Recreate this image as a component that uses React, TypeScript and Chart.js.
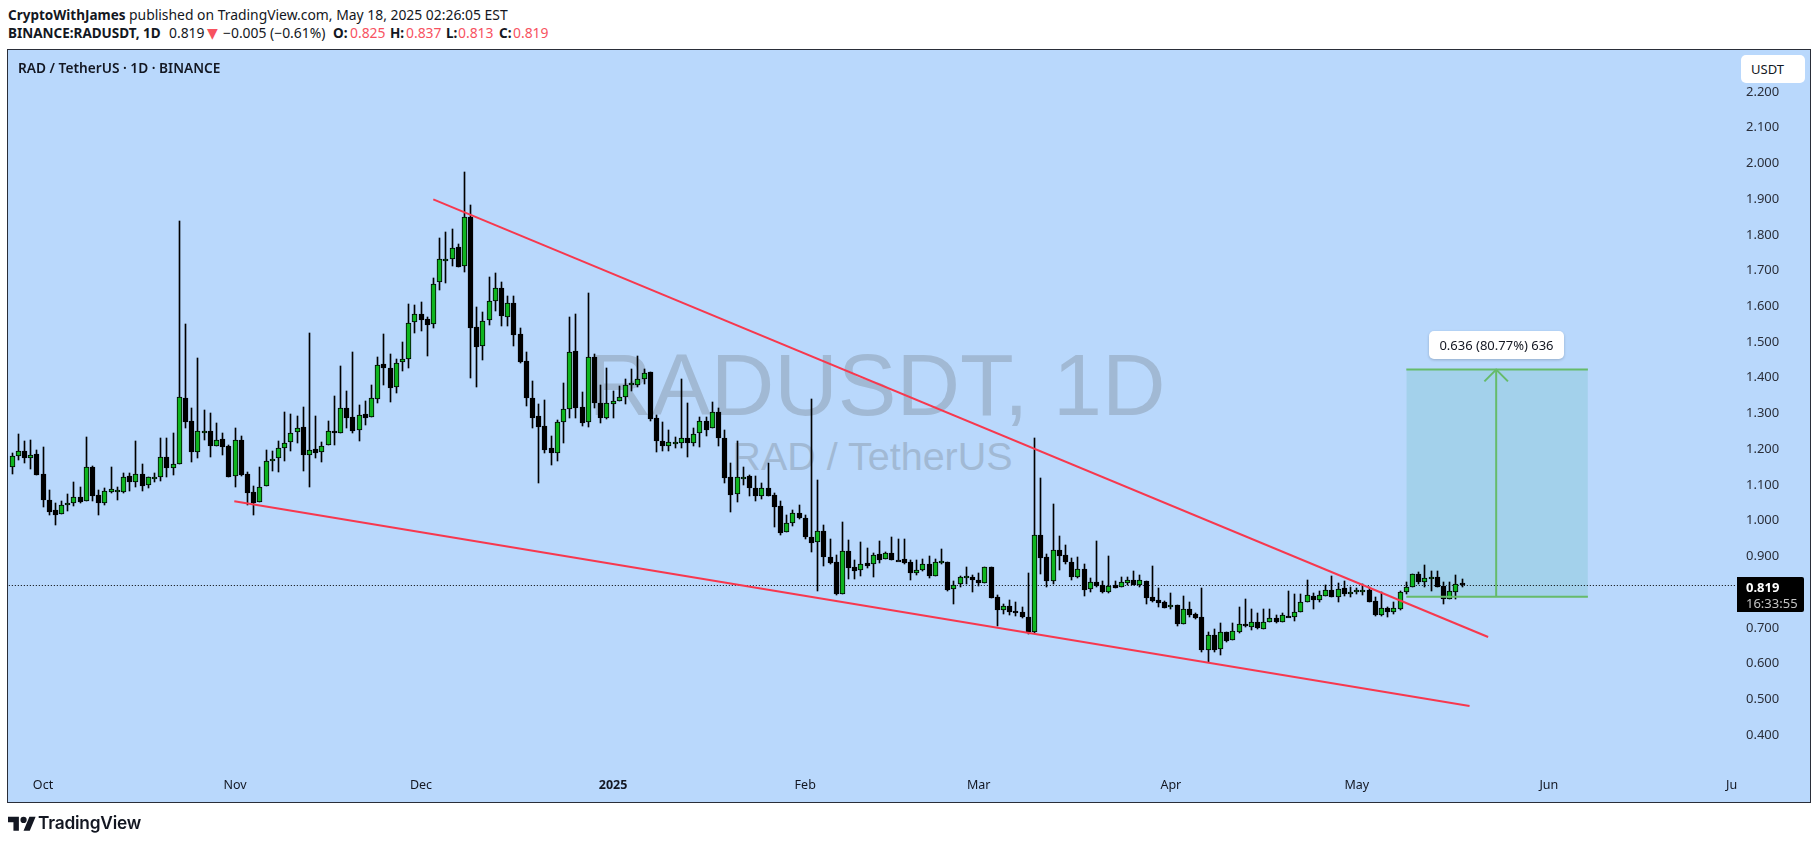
import React, { useEffect, useRef } from "react";
import { Chart, registerables } from "chart.js";

Chart.register(...registerables);

const firstCandleDay = -5; // days relative to 1 Oct 2024

const opens = [
  1.151,1.182,1.194,1.175,1.186,1.130,1.057,1.029,1.018,1.048,
  1.048,1.065,1.054,1.149,1.071,1.048,1.081,1.084,1.081,1.124,
  1.107,1.130,1.099,1.120,1.121,1.177,1.146,1.158,1.342,1.278,
  1.191,1.250,1.250,1.210,1.228,1.208,1.124,1.225,1.130,1.079,
  1.051,1.096,1.171,1.175,1.202,1.219,1.247,1.261,1.185,1.200,
  1.193,1.211,1.250,1.244,1.314,1.289,1.253,1.298,1.289,1.340,
  1.438,1.426,1.373,1.443,1.452,1.555,1.578,1.564,1.550,1.667,
  1.731,1.732,1.765,1.712,1.849,1.541,1.488,1.561,1.614,1.650,
  1.571,1.608,1.522,1.446,1.342,1.292,1.264,1.203,1.189,1.275,
  1.312,1.474,1.317,1.275,1.457,1.329,1.288,1.327,1.336,1.345,
  1.383,1.381,1.396,1.415,1.287,1.222,1.210,1.220,1.218,1.231,
  1.218,1.244,1.278,1.258,1.303,1.231,1.121,1.074,1.122,1.124,
  1.091,1.068,1.091,1.071,1.040,0.967,0.993,1.021,1.007,0.953,
  0.939,0.970,0.897,0.883,0.796,0.914,0.869,0.861,0.881,0.878,
  0.906,0.892,0.909,0.891,0.892,0.883,0.854,0.861,0.878,0.846,
  0.885,0.884,0.808,0.822,0.843,0.841,0.833,0.826,0.869,0.785,
  0.751,0.760,0.746,0.743,0.729,0.689,0.959,0.897,0.832,0.917,
  0.903,0.884,0.843,0.864,0.808,0.827,0.819,0.801,0.819,0.815,
  0.826,0.833,0.821,0.830,0.785,0.777,0.771,0.757,0.763,0.712,
  0.752,0.738,0.729,0.639,0.679,0.640,0.687,0.665,0.689,0.710,
  0.703,0.715,0.698,0.717,0.727,0.717,0.734,0.729,0.743,0.771,
  0.788,0.778,0.790,0.805,0.787,0.811,0.799,0.799,0.805,0.805,
  0.774,0.737,0.755,0.743,0.754,0.799,0.813,0.850,0.827,0.841,
  0.841,0.816,0.782,0.801,0.825,
];

const highs = [
  1.188,1.242,1.223,1.226,1.198,1.205,1.085,1.049,1.055,1.074,
  1.108,1.094,1.234,1.153,1.086,1.091,1.149,1.093,1.133,1.134,
  1.223,1.159,1.123,1.134,1.230,1.231,1.244,1.839,1.551,1.314,
  1.454,1.310,1.300,1.272,1.244,1.212,1.259,1.237,1.135,1.097,
  1.149,1.198,1.195,1.223,1.303,1.299,1.293,1.317,1.524,1.293,
  1.219,1.279,1.349,1.433,1.363,1.472,1.323,1.334,1.380,1.458,
  1.523,1.466,1.452,1.500,1.606,1.604,1.611,1.569,1.679,1.790,
  1.808,1.816,1.774,1.975,1.883,1.598,1.583,1.682,1.693,1.667,
  1.629,1.629,1.538,1.472,1.391,1.326,1.337,1.237,1.281,1.384,
  1.569,1.579,1.359,1.636,1.466,1.380,1.426,1.363,1.377,1.397,
  1.424,1.461,1.424,1.416,1.296,1.276,1.254,1.233,1.397,1.329,
  1.259,1.291,1.291,1.331,1.314,1.253,1.160,1.223,1.149,1.127,
  1.125,1.106,1.160,1.078,1.055,1.016,1.030,1.044,1.016,1.340,
  1.114,0.988,0.950,0.903,0.995,0.946,0.890,0.939,0.923,0.909,
  0.942,0.913,0.953,0.949,0.950,0.889,0.890,0.892,0.901,0.893,
  0.922,0.885,0.830,0.846,0.871,0.848,0.853,0.869,0.869,0.791,
  0.766,0.778,0.771,0.759,0.853,1.230,1.118,0.908,1.046,0.957,
  0.932,0.895,0.898,0.879,0.839,0.942,0.830,0.900,0.830,0.841,
  0.843,0.858,0.847,0.831,0.872,0.811,0.776,0.797,0.764,0.789,
  0.771,0.742,0.811,0.687,0.697,0.713,0.689,0.713,0.757,0.781,
  0.753,0.741,0.754,0.753,0.736,0.741,0.803,0.794,0.795,0.833,
  0.797,0.803,0.819,0.845,0.825,0.831,0.815,0.811,0.823,0.815,
  0.785,0.800,0.757,0.771,0.804,0.827,0.850,0.856,0.875,0.859,
  0.858,0.827,0.827,0.847,0.837,
];

const lows = [
  1.131,1.170,1.162,1.145,1.129,1.039,1.017,0.989,1.018,1.028,
  1.042,1.050,1.054,1.056,1.017,1.045,1.078,1.059,1.076,1.084,
  1.095,1.084,1.090,1.109,1.112,1.123,1.129,1.158,1.258,1.165,
  1.176,1.226,1.179,1.210,1.185,1.121,1.095,1.125,1.045,1.017,
  1.051,1.096,1.139,1.137,1.168,1.196,1.216,1.140,1.095,1.176,
  1.165,1.211,1.212,1.244,1.260,1.246,1.224,1.268,1.289,1.330,
  1.380,1.333,1.356,1.420,1.428,1.526,1.532,1.462,1.538,1.647,
  1.666,1.714,1.711,1.697,1.400,1.375,1.451,1.549,1.588,1.546,
  1.546,1.490,1.440,1.322,1.260,1.106,1.190,1.157,1.168,1.218,
  1.286,1.288,1.266,1.263,1.316,1.272,1.285,1.288,1.334,1.327,
  1.364,1.375,1.383,1.279,1.193,1.196,1.195,1.202,1.202,1.179,
  1.210,1.207,1.238,1.258,1.210,1.106,1.025,1.053,1.100,1.070,
  1.056,1.060,1.070,0.983,0.961,0.967,0.985,1.004,0.948,0.913,
  0.804,0.874,0.880,0.793,0.796,0.837,0.837,0.846,0.868,0.843,
  0.882,0.892,0.891,0.889,0.880,0.835,0.849,0.859,0.840,0.846,
  0.878,0.804,0.768,0.813,0.823,0.801,0.818,0.825,0.784,0.705,
  0.740,0.737,0.734,0.728,0.683,0.686,0.852,0.815,0.824,0.862,
  0.880,0.834,0.840,0.790,0.801,0.813,0.798,0.798,0.811,0.813,
  0.821,0.819,0.815,0.768,0.773,0.759,0.755,0.753,0.706,0.712,
  0.729,0.725,0.633,0.603,0.633,0.624,0.661,0.665,0.686,0.703,
  0.695,0.698,0.698,0.717,0.714,0.717,0.729,0.719,0.743,0.771,
  0.753,0.773,0.790,0.786,0.772,0.790,0.786,0.795,0.792,0.771,
  0.733,0.734,0.729,0.740,0.750,0.795,0.813,0.822,0.814,0.803,
  0.814,0.768,0.782,0.782,0.813,
];

const closes = [
  1.182,1.194,1.176,1.185,1.129,1.059,1.025,1.017,1.045,1.050,
  1.065,1.053,1.149,1.070,1.048,1.082,1.088,1.086,1.123,1.107,
  1.130,1.096,1.121,1.122,1.179,1.146,1.158,1.345,1.277,1.193,
  1.250,1.251,1.210,1.227,1.207,1.123,1.225,1.129,1.078,1.050,
  1.095,1.168,1.173,1.202,1.218,1.246,1.260,1.185,1.199,1.190,
  1.210,1.252,1.244,1.314,1.288,1.252,1.297,1.288,1.342,1.437,
  1.426,1.372,1.442,1.452,1.554,1.578,1.563,1.549,1.663,1.732,
  1.732,1.762,1.711,1.849,1.540,1.487,1.560,1.614,1.650,1.574,
  1.608,1.521,1.445,1.342,1.288,1.263,1.199,1.188,1.275,1.312,
  1.471,1.314,1.274,1.457,1.330,1.288,1.329,1.334,1.345,1.381,
  1.384,1.396,1.412,1.285,1.224,1.210,1.221,1.221,1.231,1.216,
  1.242,1.278,1.255,1.303,1.230,1.120,1.073,1.123,1.123,1.090,
  1.070,1.090,1.070,1.039,0.966,0.993,1.020,1.008,0.955,0.938,
  0.970,0.897,0.882,0.796,0.914,0.868,0.860,0.878,0.874,0.903,
  0.891,0.909,0.891,0.890,0.881,0.854,0.861,0.878,0.845,0.883,
  0.886,0.807,0.821,0.841,0.844,0.835,0.826,0.869,0.784,0.751,
  0.760,0.745,0.742,0.731,0.688,0.959,0.896,0.832,0.919,0.902,
  0.884,0.843,0.864,0.807,0.827,0.818,0.800,0.818,0.811,0.827,
  0.833,0.821,0.833,0.784,0.775,0.770,0.756,0.763,0.711,0.752,
  0.736,0.727,0.639,0.681,0.639,0.687,0.664,0.690,0.710,0.705,
  0.715,0.700,0.717,0.727,0.716,0.735,0.729,0.743,0.771,0.791,
  0.778,0.791,0.805,0.786,0.808,0.796,0.800,0.805,0.806,0.773,
  0.736,0.755,0.743,0.755,0.799,0.814,0.850,0.829,0.839,0.842,
  0.815,0.782,0.802,0.822,0.819,
];

const monthTickDays = [0, 31, 61, 92, 123, 151, 182, 212, 243, 272.5];
const monthTickLabels = ["Oct", "Nov", "Dec", "2025", "Feb", "Mar", "Apr", "May", "Jun", "Ju"];
const priceTicks = [2.2, 2.1, 2.0, 1.9, 1.8, 1.7, 1.6, 1.5, 1.4, 1.3, 1.2, 1.1, 1.0, 0.9, 0.7, 0.6, 0.5, 0.4];

const lastPrice = 0.819;
const upperTrend = [{ x: 62.98, y: 1.8996 }, { x: 233.2, y: 0.6742 }];
const lowerTrend = [{ x: 30.87, y: 1.0541 }, { x: 230.2, y: 0.481 }];
const targetLow = 0.787;
const targetHigh = 1.423;
const targetStartDay = 220.0;
const targetEndDay = 249.3;
const targetMidDay = 234.5;
const arrowHalfDays = 1.9;
const arrowDrop = 0.033;

const tickFont = '"Noto Sans", sans-serif';
const GREEN = "#0fb51f";
const BLACK = "#000000";
const RED = "#f7384e";
const TARGET = "#66bb6a";

// Snap candles and the last-price line onto whole pixels so they stay crisp.
const snapPlugin = {
  id: "snapCandles",
  afterDatasetsUpdate(chart: any) {
    chart.data.datasets.forEach((ds: any, i: number) => {
      const meta = chart.getDatasetMeta(i);
      if (ds.type === "bar") {
        meta.data.forEach((el: any) => {
          el.x = Math.floor(el.x) + 0.5;
          let a = Math.round(el.y);
          let b = Math.round(el.base);
          if (ds.barThickness > 1 && Math.abs(a - b) < 2) b = a + 2;
          el.y = a;
          el.base = b;
        });
      } else if (ds.borderDash) {
        meta.data.forEach((el: any) => {
          el.y = Math.floor(el.y) + 0.5;
        });
      }
    });
  },
};

const headerStyle: React.CSSProperties = {
  position: "absolute",
  left: 8,
  fontFamily: tickFont,
  fontSize: 13.9,
  lineHeight: "18px",
  color: "#131722",
  whiteSpace: "pre",
};
const redText: React.CSSProperties = { color: "#f7525f" };
const boldText: React.CSSProperties = { fontWeight: 700, fontSize: 13.5 };

function At({ x, style, children }: { x: number; style?: React.CSSProperties; children: React.ReactNode }) {
  return <span style={{ position: "absolute", left: x - 8, top: 0, ...style }}>{children}</span>;
}

export default function App() {
  const ref = useRef<HTMLCanvasElement | null>(null);

  useEffect(() => {
    if (!ref.current) return;
    const days = opens.map((_, i) => firstCandleDay + i);
    const plainLine = {
      type: "line" as const,
      pointRadius: 0,
      borderWidth: 2,
      fill: false,
      tension: 0,
    };
    const chart = new Chart(ref.current, {
      type: "bar",
      plugins: [snapPlugin],
      data: {
        datasets: [
          {
            ...plainLine,
            data: [{ x: targetStartDay, y: targetHigh }, { x: targetEndDay, y: targetHigh }],
            fill: { value: targetLow },
            backgroundColor: "#a3d1eb",
            borderColor: TARGET,
            order: 9,
          },
          {
            ...plainLine,
            data: [{ x: firstCandleDay - 1, y: lastPrice }, { x: 273.2, y: lastPrice }],
            borderColor: "#000000",
            borderWidth: 1,
            borderDash: [1, 2],
            order: 8,
          },
          {
            type: "bar" as const,
            data: days.map((x, i) => ({ x, y: [lows[i], highs[i]] })),
            backgroundColor: BLACK,
            borderWidth: 0,
            barThickness: 1,
            grouped: false,
            order: 7,
          },
          {
            type: "bar" as const,
            data: days.map((x, i) => ({ x, y: [opens[i], closes[i]] })),
            backgroundColor: days.map((_, i) => (closes[i] >= opens[i] ? GREEN : BLACK)),
            borderColor: BLACK,
            borderWidth: 1,
            borderSkipped: false,
            barThickness: 5,
            grouped: false,
            order: 6,
          },
          { ...plainLine, data: upperTrend, borderColor: RED, order: 3 },
          { ...plainLine, data: lowerTrend, borderColor: RED, order: 3 },
          {
            ...plainLine,
            data: [{ x: targetStartDay, y: targetLow }, { x: targetEndDay, y: targetLow }],
            borderColor: TARGET,
            order: 2,
          },
          {
            ...plainLine,
            data: [{ x: targetMidDay, y: targetLow }, { x: targetMidDay, y: targetHigh }],
            borderColor: TARGET,
            order: 2,
          },
          {
            ...plainLine,
            data: [
              { x: targetMidDay - arrowHalfDays, y: targetHigh - arrowDrop },
              { x: targetMidDay, y: targetHigh },
              { x: targetMidDay + arrowHalfDays, y: targetHigh - arrowDrop },
            ],
            borderColor: TARGET,
            order: 2,
          },
        ] as any,
      },
      options: {
        animation: false,
        responsive: false,
        maintainAspectRatio: false,
        layout: { padding: { left: 7, top: 50, right: 8, bottom: 42 } },
        plugins: { legend: { display: false }, tooltip: { enabled: false } },
        events: [],
        scales: {
          x: {
            type: "linear",
            offset: false,
            min: -5.81,
            max: 273.2,
            grid: { display: false, offset: false, drawTicks: false },
            border: { display: false },
            afterBuildTicks: (scale: any) => {
              scale.ticks = monthTickDays.map((value) => ({ value }));
            },
            afterFit: (scale: any) => {
              scale.height = 32;
            },
            ticks: {
              autoSkip: false,
              maxRotation: 0,
              padding: 8,
              color: "#131722",
              font: (ctx: any) => ({
                family: tickFont,
                size: 12.5,
                weight: monthTickLabels[ctx.index] === "2025" ? "bold" : "normal",
              }),
              callback: (_: any, i: number) => monthTickLabels[i],
            },
          },
          y: {
            type: "linear",
            position: "right",
            min: 0.3019,
            max: 2.3176,
            grid: { display: false, drawTicks: false },
            border: { display: false },
            afterBuildTicks: (scale: any) => {
              scale.ticks = priceTicks.map((value) => ({ value }));
            },
            afterFit: (scale: any) => {
              scale.width = 74;
            },
            ticks: {
              autoSkip: false,
              padding: 10,
              color: "#2a2e39",
              font: { family: tickFont, size: 13 },
              callback: (v: any) => Number(v).toFixed(3),
            },
          },
        },
      },
    } as any);
    return () => chart.destroy();
  }, []);

  return (
    <div style={{ position: "absolute", left: 0, top: 0, width: 1818, height: 844, background: "#fff", overflow: "hidden" }}>
      <div style={{ ...headerStyle, top: 6 }}>
        <span style={boldText}>CryptoWithJames</span>
        <At x={129}>published on TradingView.com, May 18, 2025 02:26:05 EST</At>
      </div>
      <div style={{ ...headerStyle, top: 24 }}>
        <span style={boldText}>BINANCE:RADUSDT, 1D</span>
        <At x={169}>0.819</At>
        <At x={207} style={{ ...redText, fontFamily: '"DejaVu Sans", sans-serif', fontSize: 14 }}>▼</At>
        <At x={223}>−0.005 (−0.61%)</At>
        <At x={333} style={boldText}>O:</At>
        <At x={350} style={redText}>0.825</At>
        <At x={390} style={boldText}>H:</At>
        <At x={406} style={redText}>0.837</At>
        <At x={446} style={boldText}>L:</At>
        <At x={458} style={redText}>0.813</At>
        <At x={499} style={boldText}>C:</At>
        <At x={513} style={redText}>0.819</At>
      </div>

      <div
        style={{
          position: "absolute",
          left: 7,
          top: 49,
          width: 1802,
          height: 752,
          background: "#b9d8fc",
          border: "1px solid #2a2e39",
        }}
      />
      <div
        style={{
          position: "absolute",
          left: 12,
          width: 1730,
          top: 330,
          textAlign: "center",
          fontFamily: '"Liberation Sans", sans-serif',
          fontSize: 88,
          lineHeight: "110px",
          color: "#a1b9d4",
        }}
      >
        RADUSDT, 1D
      </div>
      <div
        style={{
          position: "absolute",
          left: 8,
          width: 1729,
          top: 432,
          textAlign: "center",
          fontFamily: '"Liberation Sans", sans-serif',
          fontSize: 39.5,
          lineHeight: "48px",
          color: "#a1b9d4",
        }}
      >
        RAD / TetherUS
      </div>

      <canvas ref={ref} width={1818} height={844} style={{ position: "absolute", left: 0, top: 0 }} />

      <div
        style={{
          position: "absolute",
          left: 18,
          top: 59,
          fontFamily: tickFont,
          fontSize: 13.7,
          fontWeight: 600,
          lineHeight: "18px",
          color: "#131722",
        }}
      >
        RAD / TetherUS · 1D · BINANCE
      </div>

      <div
        style={{
          position: "absolute",
          left: 1741,
          top: 55,
          width: 64,
          height: 28,
          boxSizing: "border-box",
          paddingLeft: 10,
          background: "#fff",
          borderRadius: 5,
          fontFamily: tickFont,
          fontSize: 13,
          lineHeight: "28px",
          color: "#131722",
        }}
      >
        USDT
      </div>

      <div
        style={{
          position: "absolute",
          left: 1737,
          top: 577,
          width: 67,
          height: 35,
          boxSizing: "border-box",
          paddingLeft: 9,
          background: "#000",
          borderRadius: "0 2px 2px 0",
          fontFamily: tickFont,
          fontSize: 13,
          lineHeight: "16px",
          paddingTop: 2,
          color: "#fff",
        }}
      >
        <div style={{ fontWeight: 700 }}>0.819</div>
        <div style={{ color: "#c4c4c4" }}>16:33:55</div>
      </div>

      <div
        style={{
          position: "absolute",
          left: 1429,
          top: 331,
          width: 135,
          height: 28,
          background: "#fff",
          borderRadius: 5,
          boxShadow: "0 1px 3px rgba(0,0,0,0.2)",
          textAlign: "center",
          fontFamily: tickFont,
          fontSize: 13,
          lineHeight: "28px",
          color: "#131722",
          whiteSpace: "pre",
        }}
      >
        0.636 (80.77%) 636
      </div>

      <svg style={{ position: "absolute", left: 8, top: 815 }} width="28" height="16" viewBox="0 0 36 20">
        <path d="M14 20H7V9H0V2h14v18ZM28 20h-8l7.5-18h8L28 20Z" fill="#131722" />
        <circle cx="20" cy="6" r="4" fill="#131722" />
      </svg>
      <div
        style={{
          position: "absolute",
          left: 38,
          top: 811,
          fontFamily: "Inter, sans-serif",
          fontSize: 17.3,
          fontWeight: 600,
          lineHeight: "24px",
          letterSpacing: -0.2,
          color: "#131722",
        }}
      >
        TradingView
      </div>
    </div>
  );
}
